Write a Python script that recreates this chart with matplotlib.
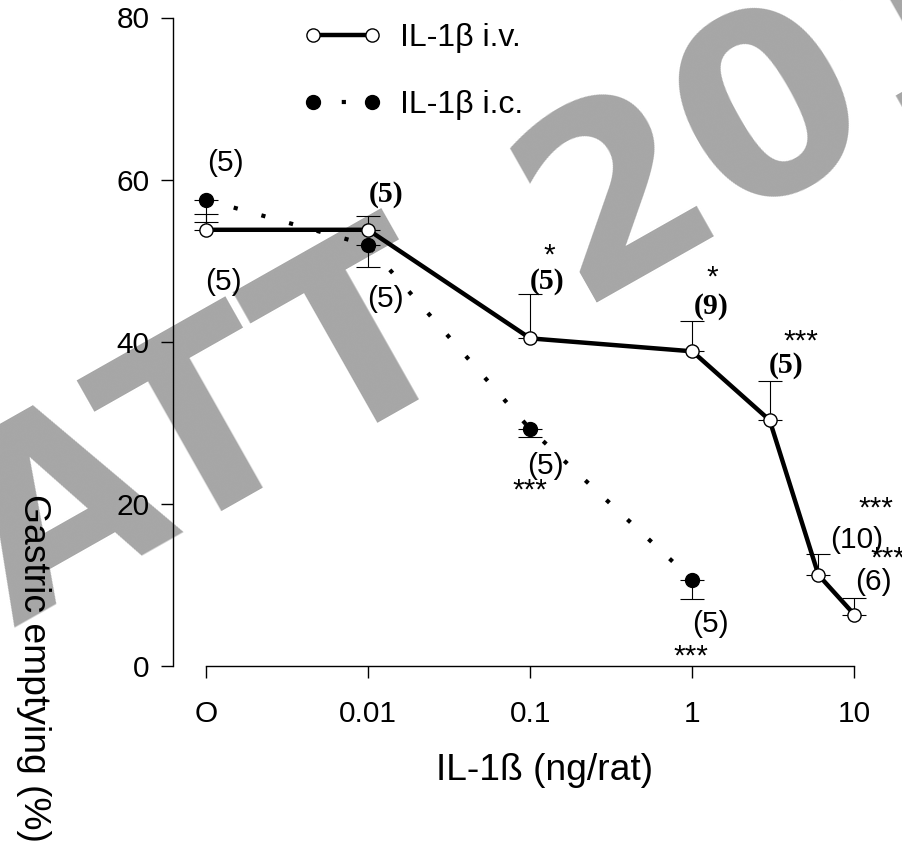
import numpy as np
import matplotlib
matplotlib.use('Agg')
import matplotlib.pyplot as plt
from matplotlib.legend_handler import HandlerLine2D

plt.rcParams['font.family'] = ['Liberation Sans', 'DejaVu Sans']

# doses (ng/rat); 0 = control, drawn at the "O" tick
iv_dose = [0, 0.01, 0.1, 1, 3, 6, 10]
iv_mean = [53.8, 53.8, 40.4, 38.8, 30.3, 11.2, 6.3]
iv_sem = [1.9, 1.7, 5.5, 3.7, 4.8, 2.6, 2.1]

ic_dose = [0, 0.01, 0.1, 1]
ic_mean = [57.5, 51.9, 29.2, 10.6]
ic_sem = [2.7, 2.7, 1.0, 2.4]

tick_doses = [0, 0.01, 0.1, 1, 10]
tick_labels = ['O', '0.01', '0.1', '1', '10']
y_ticks = [0, 20, 40, 60, 80]

CONTROL_AT = 1e-3  # where the control group sits on the log axis

# (text, log10 position, y, style)  style: s = sans, b = bold serif, star
notes = [
    ('(5)', -2.883, 62.0, 's'),
    ('(5)', -2.891, 47.3, 's'),
    ('(5)', -1.891, 58.1, 'b'),
    ('(5)', -1.890, 45.3, 's'),
    ('*', -0.883, 49.6, 'star'),
    ('(5)', -0.893, 47.4, 'b'),
    ('*', 0.123, 46.9, 'star'),
    ('(9)', 0.115, 44.3, 'b'),
    ('***', 0.673, 39.0, 'star'),
    ('(5)', 0.580, 37.0, 'b'),
    ('(5)', -0.907, 24.7, 's'),
    ('***', -1.000, 20.6, 'star'),
    ('***', 1.130, 18.4, 'star'),
    ('(10)', 1.017, 15.5, 's'),
    ('***', 1.207, 12.2, 'star'),
    ('(6)', 1.119, 10.3, 's'),
    ('(5)', 0.111, 5.15, 's'),
    ('***', -0.006, 0.2, 'star'),
]


def xpos(d):
    return np.array([CONTROL_AT if v == 0 else v for v in d], dtype=float)


fig = plt.figure(figsize=(9.02, 8.42), dpi=100)

# watermark behind everything
wm = dict(fontsize=183, family='DejaVu Sans', weight='bold', color='#a6a6a6',
          rotation=29.5, rotation_mode='anchor', ha='left', va='baseline', zorder=-10)
fig.text(0.0154, 0.2544, 'ATT', **wm)
fig.text(0.6392, 0.6403, '201', **wm)

ax = fig.add_axes([173 / 902, (842 - 665.7) / 842, (902 - 173) / 902, (665.7 - 17.5) / 842])
ax.patch.set_visible(False)
ax.set_xscale('log')
ax.set_xlim(10 ** -3.2036, 10 ** 1.2937)
ax.set_ylim(0, 80)

ax.errorbar(xpos(ic_dose), ic_mean, yerr=[ic_sem, np.zeros(len(ic_sem))], fmt='none',
            ecolor='black', elinewidth=0.8, capsize=8.5, capthick=0.8, zorder=2)
ax.errorbar(xpos(iv_dose), iv_mean, yerr=[np.zeros(len(iv_sem)), iv_sem], fmt='none',
            ecolor='black', elinewidth=0.8, capsize=8.5, capthick=0.8, zorder=2)

ic_line, = ax.plot(xpos(ic_dose), ic_mean, color='black', lw=3.0,
                   linestyle=(0, (1.0, 5.9)), dash_capstyle='butt',
                   marker='o', ms=10, mfc='black', mec='black', zorder=3,
                   label='IL-1β i.c.')
iv_line, = ax.plot(xpos(iv_dose), iv_mean, color='black', lw=3.2,
                   marker='o', ms=9.5, mfc='white', mec='black', mew=1.0, zorder=4,
                   label='IL-1β i.v.')

for txt, lx, y, style in notes:
    if style == 'star':
        ax.text(10 ** lx, y, txt, fontsize=21.5, ha='center', va='baseline', zorder=5)
    elif style == 'b':
        ax.text(10 ** lx, y, txt, fontsize=21.5, family='Liberation Serif',
                weight='bold', ha='center', va='center', zorder=5)
    else:
        ax.text(10 ** lx, y, txt, fontsize=21.5, ha='center', va='center', zorder=5)

ax.spines['top'].set_visible(False)
ax.spines['right'].set_visible(False)
ax.spines['left'].set_bounds(0, 80)
ax.spines['bottom'].set_bounds(CONTROL_AT, 10)
ax.spines['left'].set_linewidth(1.0)
ax.spines['bottom'].set_linewidth(1.0)

ax.set_yticks(y_ticks)
ax.set_xticks(xpos(tick_doses))
ax.set_xticklabels(tick_labels)
ax.xaxis.set_minor_locator(matplotlib.ticker.NullLocator())
ax.tick_params(axis='y', direction='out', length=8.4, width=1.0, pad=8.6, labelsize=21.5)
ax.tick_params(axis='x', direction='out', length=8.4, width=1.0, pad=16, labelsize=21.5)

ax.set_xlabel('IL-1ß (ng/rat)', fontsize=26.8)
ax.xaxis.set_label_coords(0.509, -0.1347)
ax.set_ylabel('Gastric emptying (%)', fontsize=26.8, rotation=270, va='center', ha='center')
ax.yaxis.set_label_coords(-0.192, -0.004)

ax.legend(handles=[iv_line, ic_line],
          handler_map={iv_line: HandlerLine2D(marker_pad=0, numpoints=2),
                       ic_line: HandlerLine2D(marker_pad=0, numpoints=2)},
          loc='upper left', bbox_to_anchor=(0.192, 0.992), frameon=False,
          fontsize=23, handlelength=1.84, handletextpad=0.87, labelspacing=1.16,
          borderpad=0, borderaxespad=0)

fig.savefig('out.png', dpi=100)
